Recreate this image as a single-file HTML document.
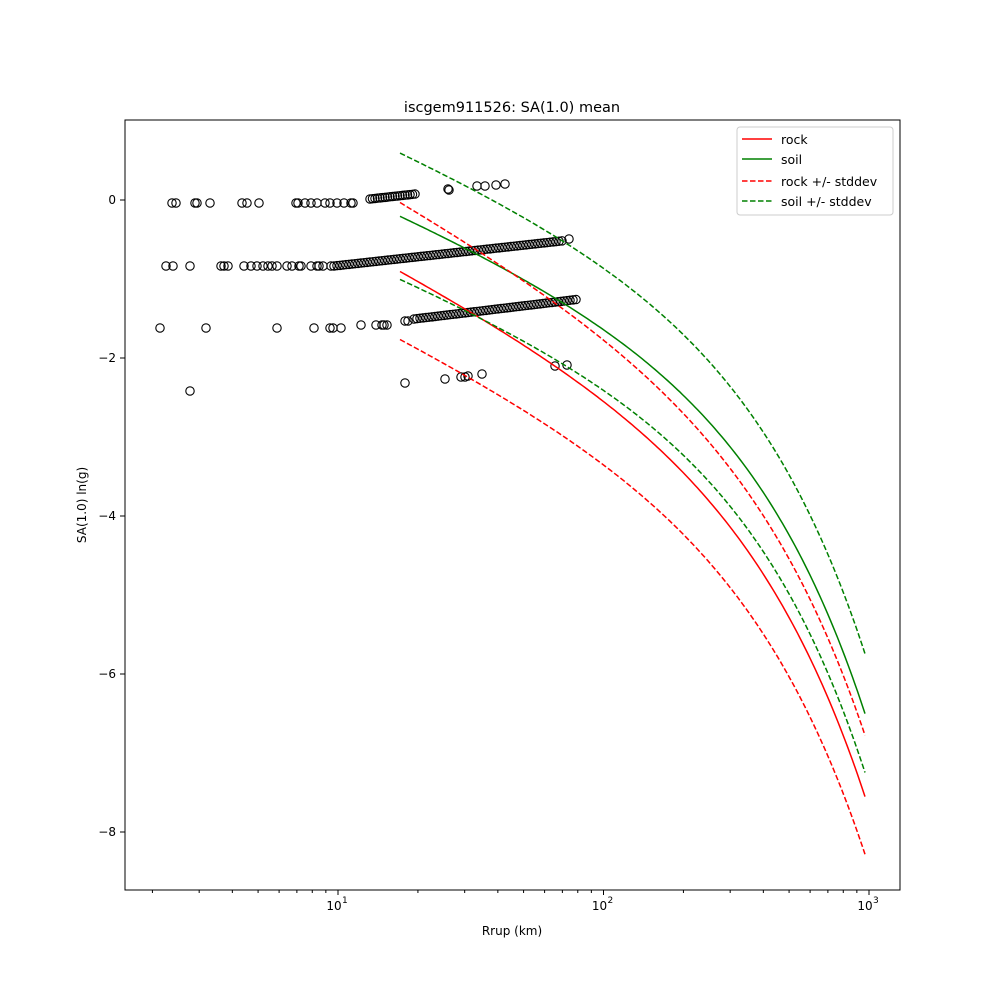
<!DOCTYPE html>
<html><head><meta charset="utf-8"><style>
body{margin:0;background:#fff}
svg{font-family:"DejaVu Sans","Liberation Sans",sans-serif}
</style></head><body>
<svg id="s" width="1000" height="1000" xmlns="http://www.w3.org/2000/svg">
<rect width="1000" height="1000" fill="#fff"/>
<text x="512" y="112" font-size="14.5" text-anchor="middle">iscgem911526: SA(1.0) mean</text>
<g id="plot"></g>
<rect x="125" y="120" width="775" height="770" fill="none" stroke="#000" stroke-width="1"/>
<g id="ticks" font-size="12"></g>
<text x="512" y="935" font-size="12" text-anchor="middle">Rrup (km)</text>
<text transform="translate(86,505) rotate(-90)" font-size="12" text-anchor="middle">SA(1.0) ln(g)</text>
<g>
<rect x="737" y="127" width="156" height="88" rx="3" fill="#fff" fill-opacity="0.8" stroke="#ccc"/>
<line x1="742" y1="139" x2="772" y2="139" stroke="red" stroke-width="1.5"/>
<line x1="742" y1="159" x2="772" y2="159" stroke="green" stroke-width="1.5"/>
<line x1="742" y1="181" x2="772" y2="181" stroke="red" stroke-width="1.5" stroke-dasharray="5.5,2.5"/>
<line x1="742" y1="201" x2="772" y2="201" stroke="green" stroke-width="1.5" stroke-dasharray="5.5,2.5"/>
<text x="781" y="144" font-size="12.5">rock</text>
<text x="781" y="164" font-size="12.5">soil</text>
<text x="781" y="186" font-size="12.5">rock +/- stddev</text>
<text x="781" y="206" font-size="12.5">soil +/- stddev</text>
</g>
</svg>
<script>
var NS="http://www.w3.org/2000/svg";
function X(r){return 338+(Math.log10(r)-1)*265.5}
function Rx(x){return Math.pow(10,1+(x-338)/265.5)}
function el(p,t,a){var e=document.createElementNS(NS,t);for(var k in a)e.setAttribute(k,a[k]);p.appendChild(e);return e}
var plot=document.getElementById('plot'),tk=document.getElementById('ticks');
[1,10,100,1000].forEach(function(d,i){for(var m=1;m<10;m++){var r=d*m,x=X(r);if(x<125||x>900)continue;
 if(m==1){el(tk,'line',{x1:x,y1:890,x2:x,y2:895,stroke:'#000'});var t=el(tk,'text',{x:x-4,y:910,'text-anchor':'middle'});t.textContent='10';var s=el(tk,'text',{x:x+4,y:903,'font-size':'9'});s.textContent=String(i);}
 else el(tk,'line',{x1:x,y1:890,x2:x,y2:893,stroke:'#000'});}});
[0,-2,-4,-6,-8].forEach(function(v){var y=200-v*79;el(tk,'line',{x1:120,y1:y,x2:125,y2:y,stroke:'#000'});var t=el(tk,'text',{x:116,y:y+4,'text-anchor':'end'});t.textContent=v==0?'0':'\u2212'+(-v);});
var pts=[];
[172,176,195,197,210,242,247,259,296,298,305,311,317,325,330,337,344,351,353].forEach(function(x){pts.push([x,203]);});
for(var x=370;x<=416;x+=2.5)pts.push([x,199-(x-370)*0.11]);
[[448,189],[449,190],[477,186],[485,186],[496,185],[505,184]].forEach(function(p){pts.push(p)});
[166,173,190,221,224,228,244,251,257,263,268,272,277,287,292,299,301,311,317,319,323,331].forEach(function(x){pts.push([x,266]);});
for(var x=334;x<=562;x+=3)pts.push([x,266-(x-334)*0.11]);pts.push([569,239]);
[160,206,277,314,330,333,341,361,376,382,384,387,405,408].forEach(function(x){pts.push([x,x<355?328:(x<395?325:321)]);});
for(var x=414;x<=576;x+=3)pts.push([x,319-(x-414)*0.12]);
[[190,391],[405,383],[445,379],[461,377],[465,377],[468,376],[482,374],[555,366],[567,365]].forEach(function(p){pts.push(p)});
pts.forEach(function(p){el(plot,'circle',{cx:p[0],cy:p[1],r:4.2,fill:'none',stroke:'#000','stroke-width':1.1});});
// least-squares fit y = a + b lnR + c R (pixel y)
function solve3(A,B){var M=A.map(function(r,i){return r.concat([B[i]])});
 for(var i=0;i<3;i++){var p=i;for(var k=i+1;k<3;k++)if(Math.abs(M[k][i])>Math.abs(M[p][i]))p=k;var t=M[i];M[i]=M[p];M[p]=t;
  for(var k=0;k<3;k++){if(k==i)continue;var f=M[k][i]/M[i][i];for(var j=i;j<4;j++)M[k][j]-=f*M[i][j];}}
 return [M[0][3]/M[0][0],M[1][3]/M[1][1],M[2][3]/M[2][2]];}
var XS=[400,480,540,680,740,790,865];
function draw(ys,col,dash){var A=[[0,0,0],[0,0,0],[0,0,0]],B=[0,0,0];
 XS.forEach(function(x,i){var R=Rx(x),f=[1,Math.log(R),R];var w=(i==0||i==XS.length-1)?4:1;
  for(var a=0;a<3;a++){B[a]+=w*f[a]*ys[i];for(var b=0;b<3;b++)A[a][b]+=w*f[a]*f[b];}});
 var c=solve3(A,B),d='';
 for(var x=400;x<=865;x+=2.5){var R=Rx(x);var y=c[0]+c[1]*Math.log(R)+c[2]*R;d+=(x==400?'M':'L')+x+','+y.toFixed(1);}
 var a={d:d,fill:'none',stroke:col,'stroke-width':1.5};if(dash)a['stroke-dasharray']='5.5,2.4';el(plot,'path',a);}
draw([272,315,355,472,545,612,797],'red',false);
draw([218,252,282,392,463,540,713],'green',false);
draw([203,253,288,410,483,562,735],'red',true);
draw([340,382,420,533,597,682,854],'red',true);
draw([155,190,218,332,403,480,653],'green',true);
draw([281,315,343,453,522,598,772],'green',true);
</script>
</body></html>
